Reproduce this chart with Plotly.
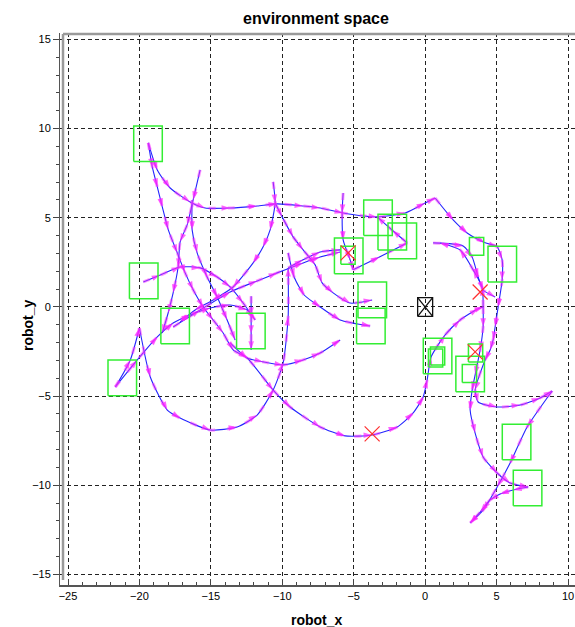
import plotly.graph_objects as go

# ---------------- data (robot trajectories, data units) ----------------
p1_x = [-19.38, -19.10, -18.75, -18.40, -17.98, -17.35, -16.80, -16.23, -15.54, -14.84, -14.14, -13.44, -12.46, -10.64, -9.45, -7.35, -5.6, -3.71, -1.96, -0.84, -0.14, 0.14, 0.42, 1.40, 2.45, 3.71, 4.06]
p1_y = [9.20, 7.85, 6.73, 5.61, 4.32, 3.03, 1.91, 0.95, 0.0, -0.73, -1.46, -2.41, -2.86, -4.66, -5.61, -6.73, -7.23, -7.18, -6.73, -5.94, -5.05, -4.09, -2.80, -1.57, -0.73, -0.1, 0.0]
p2_x = [4.06, 3.99, 3.36, 2.45, 1.05]
p2_y = [0.0, 1.12, 2.08, 3.20, 3.59]
p3_x = [0.56, 2.66, 3.29, 3.71, 4.06, 4.90]
p3_y = [3.59, 3.42, 2.80, 1.68, 0.95, 0.56]
p4_x = [-19.38, -18.75, -17.85, -16.45, -15.40, -13.65, -11.76, -10.36, -8.54, -7.35, -5.74, -3.36, -1.40, 0.0, 0.70]
p4_y = [9.20, 7.68, 6.67, 5.89, 5.55, 5.55, 5.66, 5.78, 5.66, 5.55, 5.27, 5.05, 5.27, 5.83, 6.11]
p5_x = [0.70, 1.96, 2.94, 4.20, 5.04, 5.39, 5.39, 5.11, 4.90, 4.76, 4.55, 4.20, 3.50, 3.71, 5.04, 6.65, 8.05, 8.89]
p5_y = [6.11, 4.88, 4.15, 3.60, 3.37, 2.64, 1.51, 0.0, -1.12, -1.85, -2.41, -2.97, -4.66, -5.33, -5.61, -5.50, -5.10, -4.71]
p6_x = [8.89, 7.14, 5.95, 5.04, 4.06, 3.15]
p6_y = [-4.71, -6.73, -8.75, -10.10, -11.39, -12.11]
p7_x = [4.06, 4.06, 3.85, 3.50, 3.29, 3.15, 3.50, 4.06, 5.04, 5.95, 7.21]
p7_y = [0.0, -1.12, -2.41, -3.81, -4.66, -5.78, -7.07, -8.41, -9.31, -9.87, -10.10]
p8_x = [7.21, 6.16, 5.25, 4.55, 3.85, 3.15]
p8_y = [-10.10, -10.26, -10.49, -10.82, -11.50, -12.11]
p9_x = [-20.0, -19.24, -18.05, -17.15, -15.05, -13.16, -11.76, -10.64, -9.94, -9.59, -9.59]
p9_y = [-1.18, -3.93, -5.78, -6.23, -6.90, -6.73, -6.06, -4.66, -3.14, -0.56, 2.19]
p10_x = [-9.59, -8.54, -7.35, -5.95]
p10_y = [2.19, 2.64, 3.08, 3.20]
p11_x = [-21.69, -20.64, -20.0]
p11_y = [-4.49, -2.97, -1.18]
p12_x = [-21.69, -20.15, -18.75, -17.64, -16.45, -15.05, -13.65, -12.46, -12.04]
p12_y = [-4.49, -2.97, -1.68, -0.90, -0.45, -0.06, 0.11, -0.17, -0.56]
p13_x = [-17.64, -15.75, -13.65, -11.76, -10.36, -8.54, -7.35, -5.95]
p13_y = [-1.12, -0.17, 0.84, 1.46, 1.91, 2.47, 2.80, 3.08]
p14_x = [-19.73, -18.54, -17.15, -15.75, -14.56, -13.65, -12.74, -11.90]
p14_y = [1.40, 1.79, 2.24, 2.19, 1.68, 1.12, 0.22, -0.73]
p15_x = [-15.75, -16.24, -16.66, -17.15, -17.29, -17.64, -17.99, -18.40]
p15_y = [7.68, 6.00, 4.60, 3.65, 2.24, 0.79, -0.34, -1.46]
p16_x = [-16.31, -16.31, -15.96, -15.26, -14.56, -13.86, -13.30]
p16_y = [6.00, 4.32, 3.03, 1.68, 0.56, -0.73, -1.85]
p17_x = [-10.64, -10.50, -10.85, -11.34, -12.04, -13.44, -14.84, -16.10, -17.15]
p17_y = [7.01, 5.83, 4.32, 3.37, 2.47, 1.12, 0.39, -0.17, -0.84]
p18_x = [-10.50, -10.01, -9.24, -8.54, -7.70, -7.21, -6.44, -5.25, -3.71]
p18_y = [5.83, 5.05, 3.93, 3.20, 2.36, 1.35, 0.79, 0.22, 0.39]
p19_x = [-9.59, -9.17, -8.47, -7.35, -5.95, -3.85]
p19_y = [3.03, 1.68, 0.67, 0.0, -0.73, -1.07]
p20_x = [-13.65, -12.46, -11.34, -9.94, -8.54, -7.35, -5.95]
p20_y = [-2.02, -2.86, -3.08, -3.25, -2.97, -2.58, -1.85]
p21_x = [-5.74, -5.81, -5.74, -5.25, -5.04]
p21_y = [6.39, 5.27, 3.76, 2.64, 2.08]
p22_x = [-5.04, -3.20, -1.26]
p22_y = [2.08, 2.80, 3.59]
p23_x = [-1.26, -2.30, -3.36]
p23_y = [3.59, 4.30, 5.05]
p24_x = [-12.18, -12.18, -12.18, -12.18]
p24_y = [0.60, -0.50, -1.50, -2.41]

paths = [(p1_x, p1_y), (p2_x, p2_y), (p3_x, p3_y), (p4_x, p4_y), (p5_x, p5_y),
         (p6_x, p6_y), (p7_x, p7_y), (p8_x, p8_y), (p9_x, p9_y), (p10_x, p10_y),
         (p11_x, p11_y), (p12_x, p12_y), (p13_x, p13_y), (p14_x, p14_y),
         (p15_x, p15_y), (p16_x, p16_y), (p17_x, p17_y), (p18_x, p18_y),
         (p19_x, p19_y), (p20_x, p20_y), (p21_x, p21_y), (p22_x, p22_y),
         (p23_x, p23_y), (p24_x, p24_y)]

# green boxes (targets): centre and side length
box_cx = [-19.4, -19.7, -17.5, -12.2, -21.2, -3.3, -2.3, -1.6, -5.35, -5.4, -3.7, -3.8,
          3.6, 5.4, 0.87, 0.87, 0.73, 3.53, 3.15, 3.1, 6.4, 7.17]
box_cy = [9.15, 1.46, -1.07, -1.35, -3.98, 5.0, 4.2, 3.7, 2.86, 2.9, 0.4, -1.07,
          3.4, 2.4, -2.75, -2.75, -2.86, -2.58, -3.76, -3.73, -7.57, -10.15]
box_size = [2, 2, 2, 2, 2, 2, 2, 2, 2, 1, 2, 2, 1, 2, 2, 1, 1, 1, 2, 1, 2, 2]

# red crosses
cross_x = [3.85, -3.71, -5.39, 3.50]
cross_y = [0.84, -7.12, 3.03, -2.52]

# black start box at origin
start_x, start_y, start_size = 0.0, 0.0, 1.05

x_ticks = [-25, -20, -15, -10, -5, 0, 5, 10]
y_ticks = [-15, -10, -5, 0, 5, 10, 15]

FONT = "Liberation Sans"
fig = go.Figure()

# blue trajectories
for xs, ys in paths:
    fig.add_trace(go.Scatter(
        x=xs, y=ys, mode="lines", hoverinfo="skip", showlegend=False,
        line=dict(color="#2424ff", width=1.1, shape="spline", smoothing=0.6)))

# magenta heading streaks (drawn over the paths)
for xs, ys in paths:
    fig.add_trace(go.Scatter(
        x=xs, y=ys, mode="lines", hoverinfo="skip", showlegend=False, opacity=0.5,
        line=dict(color="#ff33ff", width=3, dash="7px,12px", shape="spline", smoothing=0.6)))
# magenta heading arrows
for xs, ys in paths:
    fig.add_trace(go.Scatter(
        x=xs, y=ys, mode="markers", hoverinfo="skip", showlegend=False,
        marker=dict(symbol="arrow", angleref="previous", size=9,
                    color="#ff22ff", opacity=0.7, line=dict(width=0))))

# green boxes
bx, by = [], []
for cx, cy, s in zip(box_cx, box_cy, box_size):
    h = s / 2
    bx += [cx - h, cx + h, cx + h, cx - h, cx - h, None]
    by += [cy - h, cy - h, cy + h, cy + h, cy - h, None]
fig.add_trace(go.Scatter(x=bx, y=by, mode="lines", showlegend=False, hoverinfo="skip",
                         line=dict(color="#33ee33", width=1.5)))

# black start box with X
h = start_size / 2
sx = [start_x - h, start_x + h, start_x + h, start_x - h, start_x - h, None,
      start_x - h, start_x + h, None, start_x - h, start_x + h]
sy = [start_y - h, start_y - h, start_y + h, start_y + h, start_y - h, None,
      start_y - h, start_y + h, None, start_y + h, start_y - h]
fig.add_trace(go.Scatter(x=sx, y=sy, mode="lines", showlegend=False, hoverinfo="skip",
                         line=dict(color="#111111", width=1.3)))

# red crosses
fig.add_trace(go.Scatter(x=cross_x, y=cross_y, mode="markers", showlegend=False, hoverinfo="skip",
                         marker=dict(symbol="x-thin", size=15, color="#ff3030",
                                     line=dict(color="#ff3030", width=1.2))))

W, H = 575, 627
ML, MR, MT, MB = 60, 0, 33, 42
pw, ph = W - ML - MR, H - MT - MB

# frame (top + left gray border)
fx = (63 - ML) / pw
fy_top = 1 - 1 / ph
fy_bot = (H - MB - 580) / ph
fig.add_shape(type="line", xref="paper", yref="paper", x0=fx, x1=fx, y0=fy_bot, y1=fy_top,
              line=dict(color="#9a9a9a", width=2.5))
fig.add_shape(type="line", xref="paper", yref="paper", x0=fx, x1=1.0, y0=fy_top, y1=fy_top,
              line=dict(color="#9a9a9a", width=2.5))

fig.update_layout(
    width=W, height=H,
    margin=dict(l=ML, r=MR, t=MT, b=MB),
    paper_bgcolor="white", plot_bgcolor="white",
    font=dict(family=FONT, size=11, color="#000"),
    title=dict(text="<b>environment space</b>", x=(316) / W, xanchor="center",
               y=1 - 18 / H, yanchor="middle", font=dict(family=FONT, size=16, color="#000")),
    xaxis=dict(range=[-25.56, 10.49], tickmode="array", tickvals=x_ticks,
               ticks="inside", ticklen=6, tickcolor="#444", tickwidth=1,
               showline=True, linecolor="#555", linewidth=1.5,
               showgrid=True, gridcolor="#222", griddash="4px,3px", gridwidth=1,
               zeroline=False, tickfont=dict(size=11, color="#000"),
               minor=dict(ticks="inside", ticklen=3, tickcolor="#444",
                          tickmode="linear", tick0=0, dtick=1, showgrid=False)),
    yaxis=dict(range=[-15.59, 15.36], tickmode="array", tickvals=y_ticks,
               ticks="outside", ticklen=6, tickcolor="#444", tickwidth=1,
               showline=True, linecolor="#555", linewidth=1,
               showgrid=True, gridcolor="#222", griddash="4px,3px", gridwidth=1,
               zeroline=False, tickfont=dict(size=11, color="#000"),
               minor=dict(ticks="outside", ticklen=3, tickcolor="#444",
                          tickmode="linear", tick0=0, dtick=1, showgrid=False)),
    annotations=[
        dict(text="<b>robot_x</b>", xref="x", yref="paper", x=-7.6, y=-(620 - (H - MB)) / ph,
             showarrow=False, xanchor="center", yanchor="middle",
             font=dict(family=FONT, size=14, color="#000")),
        dict(text="<b>robot_y</b>", xref="paper", yref="paper", x=(28 - ML) / pw,
             y=(H - MB - 325) / ph, textangle=-90, showarrow=False,
             xanchor="center", yanchor="middle",
             font=dict(family=FONT, size=14, color="#000")),
    ],
)

fig.write_html("out.html")
